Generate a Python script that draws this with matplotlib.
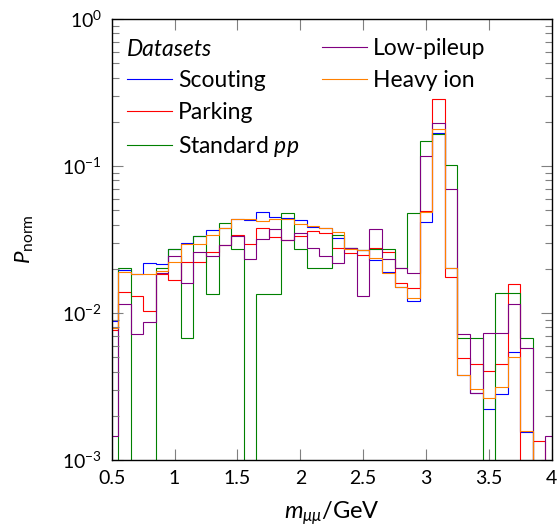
import numpy as np
import matplotlib
matplotlib.use("Agg")
import matplotlib.pyplot as plt
from matplotlib.lines import Line2D
from matplotlib.ticker import NullLocator, LogLocator

plt.rcParams['font.family'] = 'Lato'
plt.rcParams['mathtext.fontset'] = 'custom'
plt.rcParams['mathtext.rm'] = 'Lato'
plt.rcParams['mathtext.it'] = 'Lato:italic'
plt.rcParams['mathtext.bf'] = 'Lato:bold'

# dimuon mass bins, 0.1 GeV wide, centred on 0.5 ... 4.0
bin_width = 0.1
edges = np.round(np.arange(0.45, 4.05 + bin_width / 2, bin_width), 2)

# normalised counts per bin
scouting = [0.0088, 0.0196, 0.0183, 0.0218, 0.0217, 0.0271, 0.0299, 0.0334, 0.0367,
            0.0377, 0.0438, 0.0429, 0.0484, 0.0452, 0.0442, 0.0432, 0.0387, 0.0380,
            0.0325, 0.0275, 0.0268, 0.0229, 0.0191, 0.0151, 0.0121, 0.0418, 0.167,
            0.0203, 0.0038, 0.00284, 0.00221, 0.00281, 0.00546, 0.00155, 0, 0]
parking = [0.0077, 0.0139, 0.0130, 0.0103, 0.0183, 0.0168, 0.0223, 0.0223, 0.0260,
           0.0290, 0.0341, 0.0296, 0.0380, 0.0327, 0.0314, 0.0332, 0.0362, 0.0348,
           0.0277, 0.0256, 0.0248, 0.0275, 0.0261, 0.0161, 0.0148, 0.0497, 0.284,
           0.0175, 0.00496, 0.00448, 0.00405, 0.00450, 0.01575, 0, 0.00135, 0]
standard_pp = [0, 0.0201, 0, 0, 0.0203, 0.0271, 0.00679, 0.0334, 0.01354,
               0.0407, 0.0271, 0, 0.01354, 0.01354, 0.0477, 0.0271, 0.0203, 0.0203,
               0.0339, 0.0275, 0.0270, 0.0271, 0.0271, 0.0203, 0.0477, 0.1487, 0.164,
               0.1016, 0.00679, 0.00679, 0, 0.01361, 0.01361, 0.00673, 0, 0]
low_pileup = [0.00145, 0.01157, 0.00723, 0.00869, 0.0188, 0.0244, 0.0159, 0.0260, 0.0245,
              0.0290, 0.0332, 0.0232, 0.0319, 0.0374, 0.0316, 0.0348, 0.0275, 0.0245,
              0.0218, 0.0277, 0.01305, 0.0374, 0.0232, 0.0203, 0.0188, 0.1170, 0.197,
              0.0698, 0.00720, 0.00287, 0.00727, 0.00727, 0.01151, 0.00578, 0, 0.00146]
heavy_ion = [0.0079, 0.0190, 0.0184, 0.0183, 0.0194, 0.0223, 0.0293, 0.0293, 0.0341,
             0.0376, 0.0434, 0.0434, 0.0421, 0.0434, 0.0438, 0.0405, 0.0393, 0.0377,
             0.0357, 0.0272, 0.0268, 0.0236, 0.0186, 0.0151, 0.01258, 0.0486, 0.179,
             0.0203, 0.00379, 0.00306, 0.00263, 0.00315, 0.00505, 0.00157, 0, 0]

series = [
    (scouting, 'Scouting', 'blue'),
    (parking, 'Parking', 'red'),
    (standard_pp, 'Standard $pp$', '#008000'),
    (low_pileup, 'Low-pileup', '#800080'),
    (heavy_ion, 'Heavy ion', '#ff8000'),
]

x_ticks = [0.5, 1, 1.5, 2, 2.5, 3, 3.5, 4]
x_tick_labels = ['0.5', '1', '1.5', '2', '2.5', '3', '3.5', '4']

fig, ax = plt.subplots(figsize=(5.58, 5.31), dpi=100)
fig.subplots_adjust(left=0.2002, right=0.9887, bottom=0.1337, top=0.9642)

handles = {}
for vals, label, color in series:
    handles[label] = ax.stairs(vals, edges, color=color, lw=0.8, baseline=None)

ax.set_yscale('log')
ax.set_xlim(0.5, 4)
ax.set_ylim(1e-3, 1)

ax.set_xticks(x_ticks)
ax.set_xticklabels(x_tick_labels)
ax.xaxis.set_minor_locator(NullLocator())
ax.yaxis.set_major_locator(LogLocator(base=10, numticks=10))
ax.yaxis.set_minor_locator(LogLocator(base=10, subs=np.arange(2, 10), numticks=10))

ax.tick_params(which='both', direction='in', top=True, right=True,
               color='0.5', labelsize=14, pad=7)
ax.tick_params(which='major', length=8, width=0.8)
ax.tick_params(which='minor', length=5, width=0.8)
for sp in ax.spines.values():
    sp.set_linewidth(1.0)

ax.set_xlabel(r'$m_{\mu\mu}/\mathrm{GeV}$', fontsize=17, labelpad=9)
ax.set_ylabel(r'$P_{\mathrm{norm}}$', fontsize=16, labelpad=19)

# legend: first slot left blank for the "Datasets" heading
blank = Line2D([], [], color='none')
leg_handles = [blank, handles['Scouting'], handles['Parking'], handles['Standard $pp$'],
               handles['Low-pileup'], handles['Heavy ion'], blank, blank]
leg_labels = ['', 'Scouting', 'Parking', 'Standard $pp$', 'Low-pileup', 'Heavy ion', '', '']
ax.legend(leg_handles, leg_labels, ncol=2, loc='upper left',
          bbox_to_anchor=(0.0348, 0.956), frameon=False, fontsize=16.5,
          borderpad=0, borderaxespad=0, handlelength=1.97, handletextpad=0.27,
          columnspacing=0.97, labelspacing=0.48)
ax.text(0.0348, 0.931, 'Datasets', transform=ax.transAxes, fontsize=16.5,
        style='italic', va='center', ha='left')

fig.savefig('out.png', dpi=100)
